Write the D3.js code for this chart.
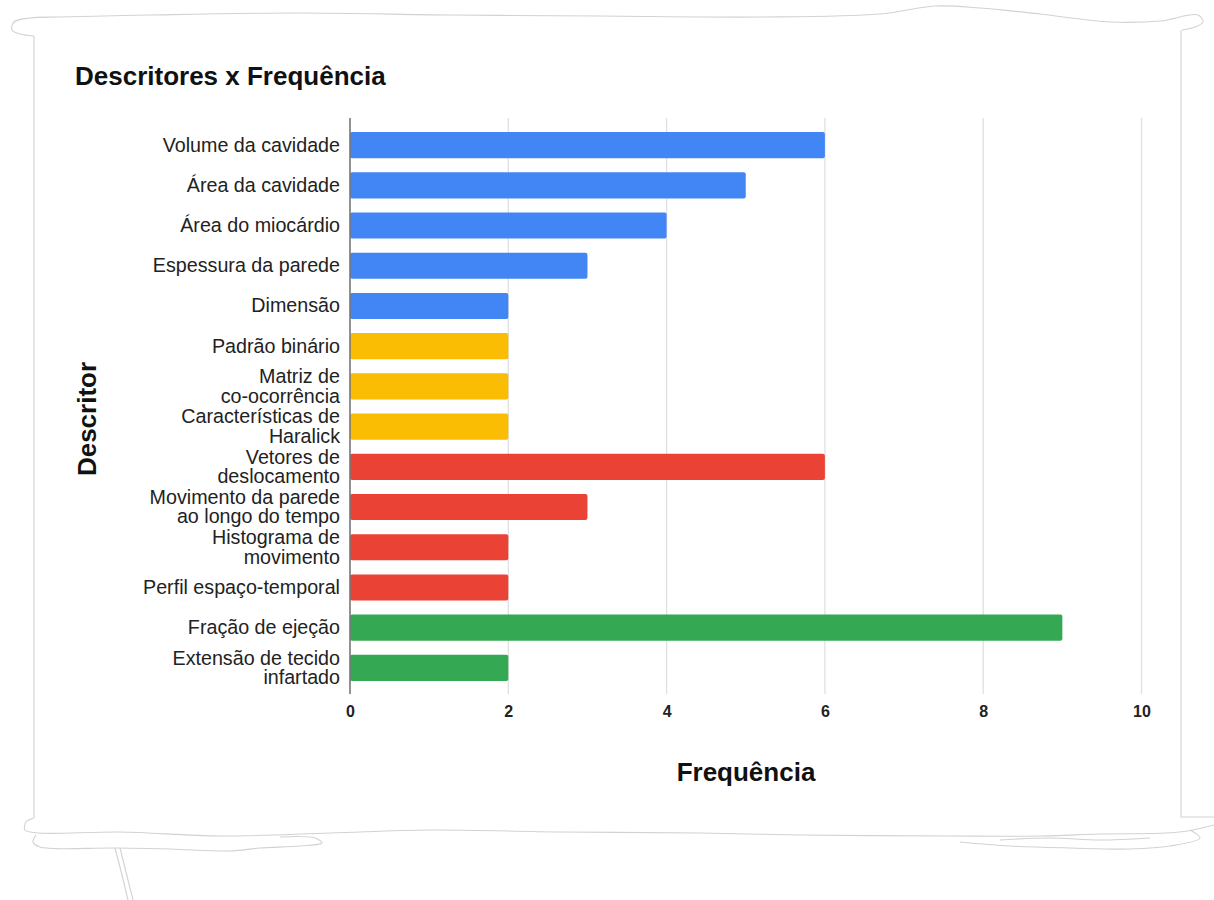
<!DOCTYPE html>
<html>
<head>
<meta charset="utf-8">
<script src="https://cdn.jsdelivr.net/npm/d3@7"></script>
<style>
  html, body { margin: 0; padding: 0; background: #fff; }
  svg { display: block; }
  text { font-family: Arial, "Liberation Sans", sans-serif; }
</style>
</head>
<body>
<svg id="chart" width="1214" height="900"></svg>
<script>
// ---- data ----
const categories = [
  "Volume da cavidade",
  "Área da cavidade",
  "Área do miocárdio",
  "Espessura da parede",
  "Dimensão",
  "Padrão binário",
  "Matriz de\nco-ocorrência",
  "Características de\nHaralick",
  "Vetores de\ndeslocamento",
  "Movimento da parede\nao longo do tempo",
  "Histograma de\nmovimento",
  "Perfil espaço-temporal",
  "Fração de ejeção",
  "Extensão de tecido\ninfartado"
];
const values = [6, 5, 4, 3, 2, 2, 2, 2, 6, 3, 2, 2, 9, 2];
const groups = ["forma", "forma", "forma", "forma", "forma",
                "textura", "textura", "textura",
                "movimento", "movimento", "movimento", "movimento",
                "funcao", "funcao"];
const groupNames = ["forma", "textura", "movimento", "funcao"];
const palette = ["#4285f4", "#fbbc04", "#ea4335", "#34a853"];
const xTicks = [0, 2, 4, 6, 8, 10];
const chartTitle = "Descritores x Frequência";
const xTitle = "Frequência";
const yTitle = "Descritor";

// ---- layout ----
const svg = d3.select("#chart");
const plot = { left: 350, right: 1141.5, top: 118, bottom: 694 };

// decorative torn-paper border
const border = svg.append("g").attr("fill", "none").attr("stroke", "#d2d2d2").attr("stroke-width", 1.1);
const curvy = d3.line().curve(d3.curveCatmullRom);
const straight = d3.line();
const curvyPaths = [
  [[34,36],[20,34],[12,30],[14,22],[30,18],[60,17],[150,15],[300,13],[450,15],[600,16],[760,17],[880,14],[935,6],[980,8],[1040,14],[1110,22],[1160,21],[1198,15],[1203,22],[1195,27],[1182,30]],
  [[34,818],[26,822],[25,830],[40,833],[120,832],[220,836],[330,833],[430,830],[560,832],[700,833],[800,835],[950,836],[1040,836],[1100,834],[1180,832],[1214,825]],
  [[36,835],[33,842],[40,847],[115,848],[170,849],[230,851],[260,848],[300,846],[322,843],[315,838],[280,837]],
  [[960,842],[1010,846],[1070,848],[1130,849],[1170,846],[1200,838],[1190,830]],
  [[1000,840],[1050,838],[1100,840],[1150,838]]
];
const straightPaths = [
  [[34,36],[34,818]],
  [[1181,30],[1181,817],[1214,817]],
  [[115,848],[122,875],[128,900]],
  [[120,848],[126,872],[133,900]]
];
curvyPaths.forEach(p => border.append("path").attr("d", curvy(p)));
straightPaths.forEach(p => border.append("path").attr("d", straight(p)));

// scales
const x = d3.scaleLinear().domain([0, 10]).range([plot.left, plot.right]);
const y = d3.scaleBand().domain(categories).range([125, 688]).paddingInner(0.35).paddingOuter(0.175);
const color = d3.scaleOrdinal().domain(groupNames).range(palette);

// gridlines
svg.append("g").selectAll("line").data(xTicks.filter(t => t > 0)).join("line")
  .attr("x1", d => x(d)).attr("x2", d => x(d))
  .attr("y1", plot.top).attr("y2", plot.bottom)
  .attr("stroke", "#e0e0e0").attr("stroke-width", 1.3);

// bars
const rows = categories.map((c, i) => ({ c, v: values[i], g: groups[i] }));
svg.append("g").selectAll("rect").data(rows).join("rect")
  .attr("x", x(0))
  .attr("y", d => y(d.c))
  .attr("width", d => x(d.v) - x(0))
  .attr("height", y.bandwidth())
  .attr("rx", 2).attr("ry", 2)
  .attr("fill", d => color(d.g));

// baseline
svg.append("line")
  .attr("x1", x(0)).attr("x2", x(0))
  .attr("y1", plot.top).attr("y2", plot.bottom)
  .attr("stroke", "#777").attr("stroke-width", 1.6);

// x axis
const xAxis = d3.axisBottom(x).tickValues(xTicks).tickSize(0).tickPadding(12).tickFormat(d3.format("d"));
const xg = svg.append("g").attr("transform", `translate(0,${plot.bottom})`).call(xAxis);
xg.select(".domain").remove();
xg.selectAll("text").attr("font-size", 16).attr("font-weight", "bold").attr("fill", "#222")
  .attr("font-family", "Arial, 'Liberation Sans', sans-serif");

// y axis labels (multi-line)
const yAxis = d3.axisLeft(y).tickSize(0).tickPadding(10);
const yg = svg.append("g").attr("transform", `translate(${plot.left},0)`).call(yAxis);
yg.select(".domain").remove();
yg.selectAll("text")
  .attr("font-size", 19.7).attr("fill", "#222")
  .attr("font-family", "Arial, 'Liberation Sans', sans-serif")
  .each(function(d) {
    const t = d3.select(this);
    const lines = d.split("\n");
    t.text(null).attr("dy", null);
    const lh = 19.5;
    lines.forEach((ln, i) => {
      t.append("tspan").attr("x", -10)
        .attr("dy", i === 0 ? ((-(lines.length - 1) / 2) * lh + 6.5) : lh)
        .text(ln);
    });
  });

// titles
svg.append("text").attr("x", 75).attr("y", 85)
  .attr("font-size", 26).attr("font-weight", "bold").attr("fill", "#111")
  .text(chartTitle);

svg.append("text").attr("x", 746).attr("y", 781)
  .attr("text-anchor", "middle")
  .attr("font-size", 26).attr("font-weight", "bold").attr("fill", "#111")
  .text(xTitle);

svg.append("text")
  .attr("transform", "translate(96,419) rotate(-90)")
  .attr("text-anchor", "middle")
  .attr("font-size", 26).attr("font-weight", "bold").attr("fill", "#111")
  .text(yTitle);
</script>
</body>
</html>
